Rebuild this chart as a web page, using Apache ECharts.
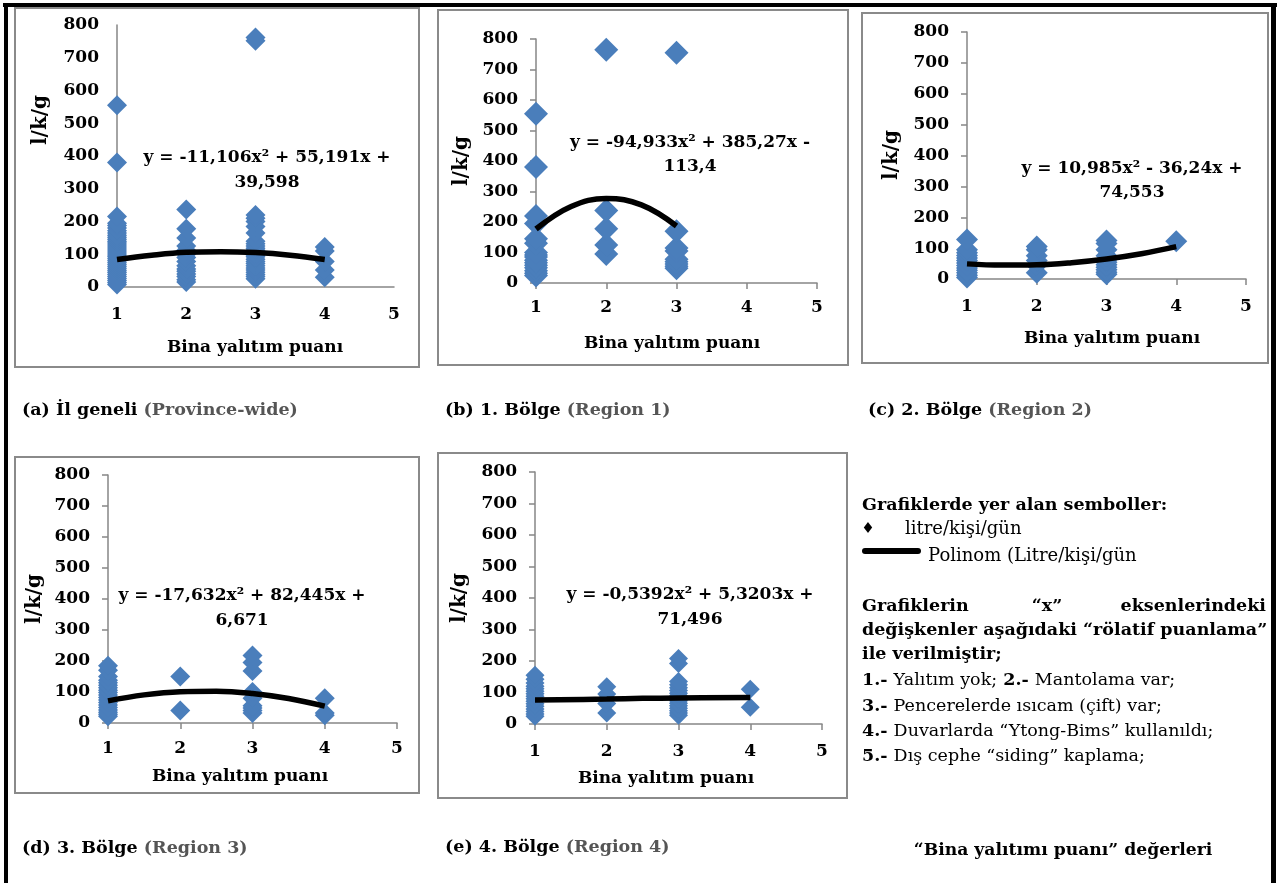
<!DOCTYPE html>
<html>
<head>
<meta charset="utf-8">
<script src="https://cdn.jsdelivr.net/npm/echarts@6/dist/echarts.min.js"></script>
<style>
html,body{margin:0;padding:0;background:#fff;}
#chart{width:1279px;height:883px;}
</style>
</head>
<body>
<div id="chart"></div>
<script>
// ---------- DATA ----------
const xTicks = [1, 2, 3, 4, 5];
const yTicks = [0, 100, 200, 300, 400, 500, 600, 700, 800];

// (a) İl geneli — litre/kişi/gün by insulation score
const a1 = [8, 14, 20, 26, 32, 38, 44, 50, 56, 62, 68, 74, 80, 86, 92, 98, 104, 110, 116, 122, 128, 134, 140, 146, 152, 158, 165, 172, 180, 188, 195, 215, 380, 555];
const a2 = [15, 22, 32, 40, 48, 55, 65, 78, 90, 100, 112, 125, 150, 178, 237];
const a3 = [25, 32, 38, 45, 52, 58, 65, 72, 78, 85, 92, 98, 105, 112, 118, 125, 132, 140, 165, 185, 200, 210, 220, 752, 762];
const a4 = [30, 52, 78, 110, 122];
const trendAX = [1, 1.5, 2, 2.5, 3, 3.5, 4];
const trendAY = [84, 97, 106, 108, 105, 97, 84];

// (b) 1. Bölge
const b1 = [25, 32, 40, 50, 58, 66, 75, 85, 92, 100, 130, 145, 195, 220, 380, 555];
const b2 = [95, 125, 178, 238, 765];
const b3 = [48, 55, 62, 70, 78, 105, 115, 170, 755];
const trendBX = [1, 1.5, 2, 2.5, 3];
const trendBY = [177, 251, 277, 256, 187];

// (c) 2. Bölge
const c1 = [5, 12, 20, 28, 36, 44, 52, 60, 68, 76, 85, 95, 128];
const c2 = [20, 45, 60, 75, 95, 105];
const c3 = [15, 22, 30, 38, 46, 54, 62, 75, 95, 115, 125];
const c4 = [122];
const trendCX = [1, 1.5, 2, 2.5, 3, 3.5, 4];
const trendCY = [49, 45, 46, 53, 65, 82, 105];

// (d) 3. Bölge
const d1 = [22, 28, 35, 42, 50, 58, 66, 74, 82, 90, 98, 106, 114, 122, 130, 138, 150, 170, 185];
const d2 = [40, 150];
const d3 = [32, 40, 48, 56, 80, 100, 168, 195, 218];
const d4 = [25, 32, 80];
const trendDX = [1, 1.5, 2, 2.5, 3, 3.5, 4];
const trendDY = [71.5, 90.7, 101, 102.6, 95.3, 79.2, 54.3];

// (e) 4. Bölge
const e1 = [25, 32, 40, 48, 56, 64, 72, 80, 88, 96, 104, 112, 120, 130, 142, 155];
const e2 = [35, 65, 80, 95, 118];
const e3 = [28, 35, 42, 50, 58, 66, 74, 82, 90, 98, 106, 115, 125, 135, 192, 208];
const e4 = [53, 110];
const trendEX = [1, 2, 2.5, 3, 4];
const trendEY = [76.3, 79.0, 81.4, 82.6, 84.2];

// Equations
const eqA = ['y = -11,106x² + 55,191x +', '39,598'];
const eqB = ['y = -94,933x² + 385,27x -', '113,4'];
const eqC = ['y = 10,985x² - 36,24x +', '74,553'];
const eqD = ['y = -17,632x² + 82,445x +', '6,671'];
const eqE = ['y = -0,5392x² + 5,3203x +', '71,496'];

const xTitle = 'Bina yalıtım puanı';
const yTitle = 'l/k/g';

// ---------- LAYOUT ----------
const SERIF = '"DejaVu Serif", "Liberation Serif", serif';
const BLUE = '#4A7EBB';
const AXIS = '#868686';

const panels = [
  { grid: {left:117, top:25, width:277, height:262}, ticks:false, xMargin:19, sym:20,
    cols: [[1,a1],[2,a2],[3,a3],[4,a4]], tx: trendAX, ty: trendAY, eq: eqA,
    eqPos:[267,158,183], xt:[255,348], yt:[41,120], box:[15,8,404,359],
    cap:[22,410,'(a) İl geneli ','(Province-wide)'] },
  { grid: {left:536, top:39, width:281, height:244}, ticks:true, xMargin:16, sym:24,
    cols: [[1,b1],[2,b2],[3,b3]], tx: trendBX, ty: trendBY, eq: eqB,
    eqPos:[690,143,167], xt:[672,344], yt:[462,161], box:[438,10,410,355],
    cap:[445,410,'(b) 1. Bölge ','(Region 1)'] },
  { grid: {left:967, top:32, width:279, height:247}, ticks:true, xMargin:19, sym:22,
    cols: [[1,c1],[2,c2],[3,c3],[4,c4]], tx: trendCX, ty: trendCY, eq: eqC,
    eqPos:[1132,169,193], xt:[1112,339], yt:[892,155], box:[862,13,406,350],
    cap:[868,410,'(c) 2. Bölge ','(Region 2)'] },
  { grid: {left:108, top:475, width:289, height:248}, ticks:true, xMargin:17, sym:20,
    cols: [[1,d1],[2,d2],[3,d3],[4,d4]], tx: trendDX, ty: trendDY, eq: eqD,
    eqPos:[242,596,621], xt:[240,777], yt:[35,599], box:[15,457,404,336],
    cap:[22,848,'(d) 3. Bölge ','(Region 3)'] },
  { grid: {left:535, top:472, width:287, height:252}, ticks:true, xMargin:19, sym:19,
    cols: [[1,e1],[2,e2],[3,e3],[4,e4]], tx: trendEX, ty: trendEY, eq: eqE,
    eqPos:[690,595,620], xt:[666,779], yt:[460,598], box:[438,453,409,345],
    cap:[445,847,'(e) 4. Bölge ','(Region 4)'] }
];

const grids = [], xAxes = [], yAxes = [], series = [], graphics = [];

function txt(x, y, text, size, opts) {
  opts = opts || {};
  const style = {
    text: text, x: 0, y: 0,
    font: (opts.weight || 'bold') + ' ' + size + 'px ' + SERIF,
    fill: opts.fill || '#000',
    align: opts.align || 'left', textAlign: opts.align || 'left',
    verticalAlign: 'middle', textVerticalAlign: 'middle'
  };
  if (opts.rich) style.rich = opts.rich;
  return { type: 'text', x: x, y: y, rotation: opts.rotation || 0, style: style, z: 10 };
}

panels.forEach(function (p, i) {
  grids.push(Object.assign({}, p.grid));
  const lbl = { fontFamily: SERIF, fontWeight: 'bold', fontSize: 17, color: '#000' };
  xAxes.push({
    gridIndex: i, type: 'value', min: xTicks[0], max: xTicks[xTicks.length - 1], interval: 1,
    axisLine: { show: true, onZero: false, lineStyle: { color: AXIS, width: 1.5 } },
    axisTick: { show: p.ticks, length: 6, lineStyle: { color: AXIS, width: 1.5 } },
    splitLine: { show: false },
    axisLabel: Object.assign({ margin: p.xMargin }, lbl)
  });
  yAxes.push({
    gridIndex: i, type: 'value', min: yTicks[0], max: yTicks[yTicks.length - 1], interval: 100,
    axisLine: { show: true, onZero: false, lineStyle: { color: AXIS, width: 1.5 } },
    axisTick: { show: p.ticks, length: 6, lineStyle: { color: AXIS, width: 1.5 } },
    splitLine: { show: false },
    axisLabel: Object.assign({ margin: 18 }, lbl)
  });
  const pts = [];
  p.cols.forEach(function (c) { c[1].forEach(function (v) { pts.push([c[0], v]); }); });
  series.push({
    type: 'scatter', xAxisIndex: i, yAxisIndex: i, data: pts,
    symbol: 'diamond', symbolSize: p.sym, itemStyle: { color: BLUE, opacity: 1 },
    silent: true, z: 2
  });
  series.push({
    type: 'line', xAxisIndex: i, yAxisIndex: i,
    data: p.tx.map(function (x, k) { return [x, p.ty[k]]; }),
    smooth: 0.4, showSymbol: false, symbol: 'none',
    lineStyle: { color: '#000', width: 5.5 }, silent: true, z: 3
  });
  graphics.push({ type: 'rect', shape: { x: p.box[0], y: p.box[1], width: p.box[2], height: p.box[3] },
    style: { fill: 'none', stroke: '#8a8a8a', lineWidth: 2 }, z: 1, silent: true });
  graphics.push(txt(p.eqPos[0], p.eqPos[1], p.eq[0], 17, { align: 'center' }));
  graphics.push(txt(p.eqPos[0], p.eqPos[2], p.eq[1], 17, { align: 'center' }));
  graphics.push(txt(p.xt[0], p.xt[1], xTitle, 17, { align: 'center' }));
  graphics.push(txt(p.yt[0], p.yt[1], yTitle, 20, { align: 'center', rotation: Math.PI / 2 }));
  graphics.push(txt(p.cap[0], p.cap[1], '{k|' + p.cap[2] + '}{g|' + p.cap[3] + '}', 17.5, {
    rich: {
      k: { fill: '#000', fontFamily: SERIF, fontWeight: 'bold', fontSize: 17.5 },
      g: { fill: '#555555', fontFamily: SERIF, fontWeight: 'bold', fontSize: 17.5 }
    }
  }));
});

// outer black frame
graphics.push({ type: 'rect', shape: { x: 3, y: 3, width: 1274, height: 4 }, style: { fill: '#000' }, z: 20, silent: true });
graphics.push({ type: 'rect', shape: { x: 4, y: 3, width: 4, height: 880 }, style: { fill: '#000' }, z: 20, silent: true });
graphics.push({ type: 'rect', shape: { x: 1271, y: 3, width: 5, height: 880 }, style: { fill: '#000' }, z: 20, silent: true });

// legend / explanation block
const LX = 862;
const BODY = 17.5;
const bodyRich = {
  b: { fill: '#000', fontFamily: SERIF, fontWeight: 'bold', fontSize: BODY },
  r: { fill: '#000', fontFamily: SERIF, fontWeight: 'normal', fontSize: BODY }
};
graphics.push(txt(LX, 505, 'Grafiklerde yer alan semboller:', 17.5));
graphics.push(txt(868, 529, '♦', 15, { align: 'center', weight: 'normal' }));
graphics.push(txt(905, 529, 'litre/kişi/gün', 18, { weight: 'normal' }));
graphics.push({ type: 'line', shape: { x1: 865, y1: 551, x2: 918, y2: 551 },
  style: { stroke: '#000', lineWidth: 6, lineCap: 'round' }, z: 10, silent: true });
graphics.push(txt(928, 556, 'Polinom (Litre/kişi/gün', 18, { weight: 'normal' }));
graphics.push(txt(LX, 606, 'Grafiklerin', 17.5));
graphics.push(txt(1047, 606, '“x”', 17.5, { align: 'center' }));
graphics.push(txt(1266, 606, 'eksenlerindeki', 17.5, { align: 'right' }));
graphics.push(txt(LX, 630, 'değişkenler aşağıdaki “rölatif puanlama”', 17.5));
graphics.push(txt(LX, 654, 'ile verilmiştir;', 17.5));
graphics.push(txt(LX, 680, '{b|1.-} {r|Yalıtım yok;} {b|2.-} {r|Mantolama var;}', BODY, { rich: bodyRich }));
graphics.push(txt(LX, 706, '{b|3.-} {r|Pencerelerde ısıcam (çift) var;}', BODY, { rich: bodyRich }));
graphics.push(txt(LX, 731, '{b|4.-} {r|Duvarlarda “Ytong-Bims” kullanıldı;}', BODY, { rich: bodyRich }));
graphics.push(txt(LX, 756, '{b|5.-} {r|Dış cephe “siding” kaplama;}', BODY, { rich: bodyRich }));
graphics.push(txt(1063, 851, '“Bina yalıtımı puanı” değerleri', 17.2, { align: 'center' }));

const chart = echarts.init(document.getElementById('chart'), null, { renderer: 'canvas' });
chart.setOption({
  animation: false,
  backgroundColor: '#fff',
  grid: grids,
  xAxis: xAxes,
  yAxis: yAxes,
  series: series,
  graphic: { elements: graphics }
});
</script>
</body>
</html>
